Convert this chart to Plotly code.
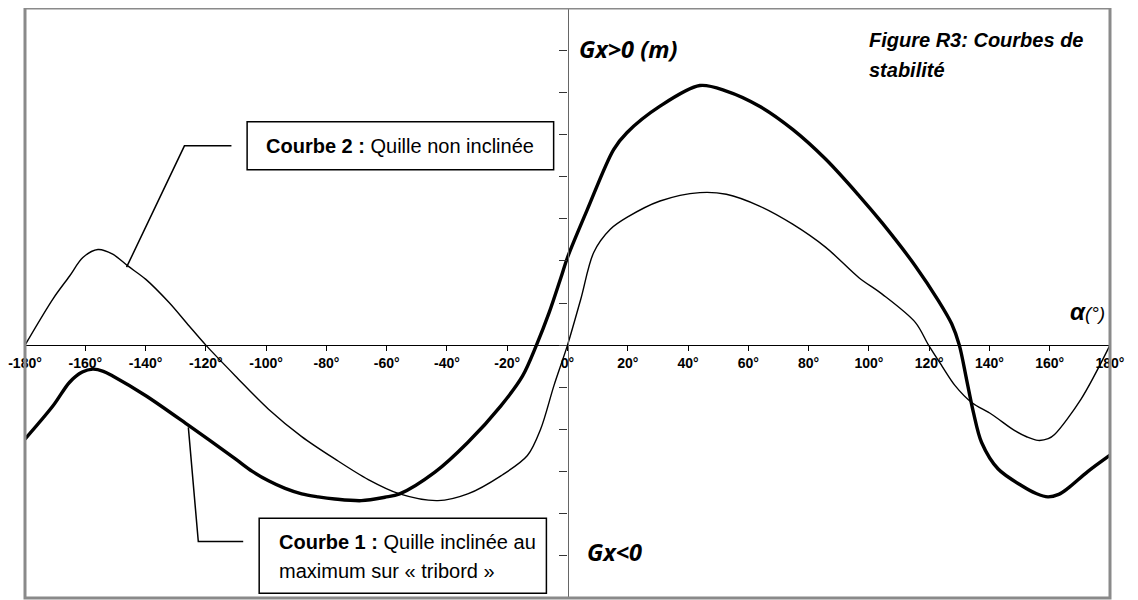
import plotly.graph_objects as go

# angle (deg) / righting lever Gx (axis tick units)
ANGLES_C1 = [-180, -170.7, -165.2, -161, -157.5, -154, -150.9, -139.9, -125.6, -110.2,
             -104.7, -99.2, -93.7, -88.2, -82.7, -77.2, -68.4, -60.6, -55.7, -44.1,
             -33.1, -22.1, -14.9, -10.3, -6.1, -2.2, 0, 6.6, 15.3, 19.7,
             30.7, 43.9, 52.7, 63.7, 74.7, 85.7, 96.7, 104.4, 115.4, 123.1,
             127.5, 130, 132.4, 134.7, 137.4, 142.9, 150.6, 155.5, 159.4, 163,
             166, 172.6, 180]
GX_C1 = [-2.23, -1.44, -0.88, -0.64, -0.57, -0.62, -0.73, -1.2, -1.91, -2.70,
         -2.99, -3.22, -3.40, -3.53, -3.60, -3.65, -3.69, -3.61, -3.53, -3.02,
         -2.31, -1.44, -0.73, 0, 0.77, 1.6, 2.08, 3.22, 4.64, 5.04,
         5.67, 6.16, 6.03, 5.67, 5.12, 4.41, 3.55, 2.9, 1.88, 1.05,
         0.5, 0, -0.81, -1.60, -2.31, -2.94, -3.33, -3.52, -3.60, -3.54,
         -3.40, -3.0, -2.61]

ANGLES_C2 = [-180, -170.7, -165.2, -160.8, -155.8, -150.9, -145.9, -139.9, -132.2, -125.6,
             -120, -110.2, -99.2, -88.2, -77.2, -66.1, -55.7, -43.0, -33.1, -22.1,
             -13.3, -8.9, -4.5, 0, 4.4, 8.7, 14.2, 19.7, 30.7, 43.9,
             52.7, 63.7, 74.7, 85.7, 96.7, 104.4, 115.4, 119.8, 124.2, 128.6,
             134.1, 140.7, 148.4, 152.5, 156.1, 159.5, 161.6, 170.4, 180]
GX_C2 = [0, 1.1, 1.64, 2.08, 2.27, 2.16, 1.88, 1.56, 1.01, 0.46,
         0, -0.73, -1.52, -2.17, -2.70, -3.19, -3.53, -3.69, -3.53, -3.10,
         -2.62, -1.99, -0.96, 0, 1.09, 2.2, 2.75, 3.03, 3.42, 3.62,
         3.58, 3.30, 2.87, 2.32, 1.60, 1.21, 0.54, 0, -0.49, -0.96,
         -1.36, -1.64, -2.03, -2.18, -2.26, -2.22, -2.12, -1.28, 0]

X_TICKS = list(range(-180, 181, 20))
X_TICK_LABELS = [f"{v}°" for v in X_TICKS]
Y_TICKS = list(range(-6, 9))

ARIAL = "Liberation Sans, Arial, sans-serif"
GX_FONT = "Open Sans, sans-serif"

fig = go.Figure()
fig.add_trace(go.Scatter(
    x=ANGLES_C2, y=GX_C2, mode="lines", name="Courbe 2",
    line=dict(color="black", width=1.4, shape="spline", smoothing=0.9),
))
fig.add_trace(go.Scatter(
    x=ANGLES_C1, y=GX_C1, mode="lines", name="Courbe 1",
    line=dict(color="black", width=3.4, shape="spline", smoothing=0.9),
))

shapes = [
    # gray frame
    dict(type="rect", xref="paper", yref="paper", x0=0, x1=1, y0=0, y1=1,
         line=dict(color="#8a8a8a", width=3), layer="above"),
    # legend boxes
    dict(type="rect", x0=-106.3, x1=-4.6, y0=4.16, y1=5.30,
         line=dict(color="black", width=1.5), fillcolor="white"),
    dict(type="rect", x0=-102.3, x1=-7.0, y0=-5.89, y1=-4.11,
         line=dict(color="black", width=1.5), fillcolor="white"),
    # connectors
    dict(type="path", path="M -111.5 4.73 L -127.1 4.73 L -146.3 1.85",
         line=dict(color="black", width=1.5)),
    dict(type="path", path="M -125.8 -1.95 L -122.5 -4.66 L -107.6 -4.66",
         line=dict(color="black", width=1.5)),
]


def label(x, y, text, size, family=ARIAL, xanchor="left"):
    return dict(x=x, y=y, xanchor=xanchor, yanchor="middle", showarrow=False,
                text=text, font=dict(family=family, size=size, color="black"))


annotations = [
    label(-100.6, 4.73, "<b>Courbe 2 :</b> Quille non inclinée", 20),
    label(-96.3, -4.68, "<b>Courbe 1 :</b> Quille inclinée au", 20),
    label(-96.3, -5.37, "maximum sur « tribord »", 20),
    label(3.3, 7.03, "<b><i>Gx>0 (m)</i></b>", 23.5, GX_FONT),
    label(5.9, -4.91, "<b><i>Gx<0</i></b>", 23.5, GX_FONT),
    label(99.5, 7.25, "<b><i>Figure R3: Courbes de</i></b>", 20),
    label(99.5, 6.53, "<b><i>stabilité</i></b>", 20),
    label(179, 0.8, "<b><i>α</i></b><i><span style='font-size:19px'>(°)</span></i>",
          24, xanchor="right"),
]

fig.update_layout(
    width=1130, height=592,
    margin=dict(l=14, r=28, t=0, b=2),
    paper_bgcolor="white", plot_bgcolor="white",
    showlegend=False,
    hovermode=False,
    xaxis=dict(
        range=[-180, 180], anchor="free", position=6 / 14,
        tickvals=X_TICKS, ticktext=X_TICK_LABELS,
        ticks="outside", ticklen=5, tickcolor="black",
        showline=True, linecolor="black", linewidth=1,
        showgrid=False, zeroline=False, ticklabeloverflow="allow",
        tickfont=dict(family=ARIAL, size=14, color="black", weight="bold"),
    ),
    yaxis=dict(
        range=[-6, 8], anchor="free", position=0.5,
        tickvals=Y_TICKS, showticklabels=False,
        ticks="outside", ticklen=8, tickcolor="#333",
        showline=True, linecolor="#666", linewidth=1.2,
        showgrid=False, zeroline=False,
    ),
    shapes=shapes,
    annotations=annotations,
)

fig.write_html("out.html")
